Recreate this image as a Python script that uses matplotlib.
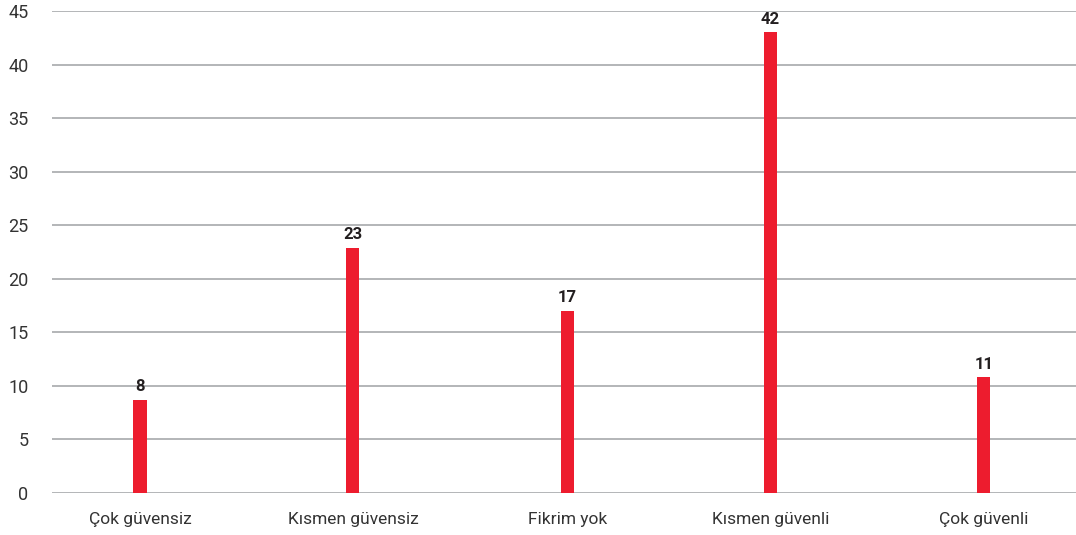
import matplotlib
matplotlib.use("Agg")
import matplotlib.pyplot as plt

categories = ["Çok güvensiz", "Kısmen güvensiz", "Fikrim yok", "Kısmen güvenli", "Çok güvenli"]
values = [8.7, 22.9, 17.0, 43.0, 10.8]
labels = ["8", "23", "17", "42", "11"]
yticks = [0, 5, 10, 15, 20, 25, 30, 35, 40, 45]
positions = [0, 1.007, 2.02, 2.98, 3.99]

plt.rcParams['font.family'] = ['Roboto', 'DejaVu Sans']

fig = plt.figure(figsize=(10.76, 5.35), dpi=100)
ax = fig.add_axes([52/1076, 1-493/535, 1-52/1076, (493-11)/535])

bars = ax.bar(positions, values, width=0.062, color="#ED1C2E", zorder=3)
for xi, v, lab in zip(positions, values, labels):
    ax.annotate(lab, (xi, v), xytext=(0, 4), textcoords="offset points",
                ha="center", va="bottom", fontsize=12, fontweight="bold", color="#231f20")

ax.set_ylim(0, 45)
ax.set_xlim(-0.416, 4.426)
ax.set_yticks(yticks)
ax.set_xticks(positions)
ax.set_xticklabels(categories)
ax.grid(axis="y", color="#a7a9ac", linewidth=1.2, zorder=0)
for s in ax.spines.values():
    s.set_visible(False)
ax.tick_params(axis="y", length=0, pad=17, labelsize=13, labelcolor="#333333")
ax.tick_params(axis="x", length=0, pad=14, labelsize=12.5, labelcolor="#333333")

fig.savefig("out.png", dpi=100)
